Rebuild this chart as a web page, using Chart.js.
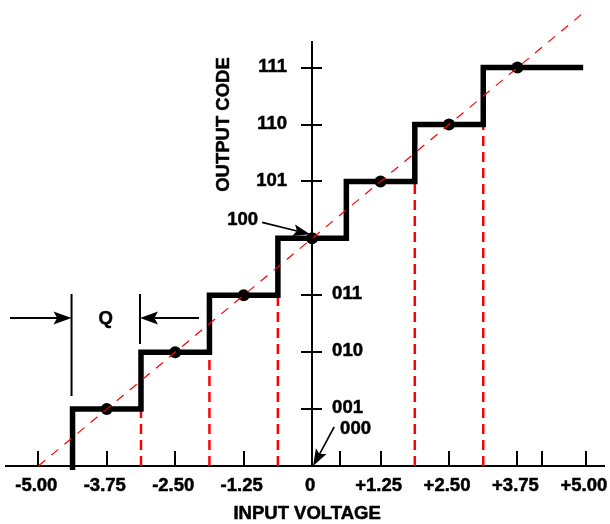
<!DOCTYPE html>
<html>
<head>
<meta charset="utf-8">
<script src="https://cdn.jsdelivr.net/npm/chart.js@4.4.1/dist/chart.umd.min.js"></script>
<style>
  html, body { margin: 0; padding: 0; background: #fff; }
  #wrap { width: 610px; height: 524px; }
</style>
</head>
<body>
<div id="wrap"><canvas id="adcChart"></canvas></div>
<script>
/*
 * 3-bit ADC transfer function
 */
// staircase: code changes at each edge, last value is where the line stops
const stepEdges = [-4.375, -3.125, -1.875, -0.625, 0.625, 1.875, 3.125, 4.95];
const stepCodes = [1, 2, 3, 4, 5, 6, 7];
// dots at the middle of each step
const dotVolts = [-3.75, -2.5, -1.25, 0, 1.25, 2.5, 3.75];
const dotCodes = [1, 2, 3, 4, 5, 6, 7];
// ideal (red diagonal)
const idealVolts = [-5, 4.95];
const idealCodes = [0, 7.96];
// red dashed drop lines
const dropVolts = [-3.125, -1.875, -0.625, 1.875, 3.125];
const dropCodes = [1, 2, 3, 5, 6];
// axis ticks and labels
const xTickMarks = [-5, -3.75, -2.5, -1.25, 0.5, 1.25, 2.5, 3.75, 4.2, 5];
const xLabelValues = [-5, -3.75, -2.5, -1.25, 0, 1.25, 2.5, 3.75, 5];
const codeTicks = [1, 2, 3, 4, 5, 6, 7];
const codeNames = ['000', '001', '010', '011', '100', '101', '110', '111'];

const FONT = 'bold 18.5px "Liberation Sans", Arial, sans-serif';

// 스텝 라인 포인트
const stairPoints = [{ x: stepEdges[0], y: -0.07 }];
for (let i = 0; i < stepCodes.length; i++) {
	stairPoints.push({ x: stepEdges[i], y: stepCodes[i] });
	stairPoints.push({ x: stepEdges[i + 1], y: stepCodes[i] });
}

const dropPoints = [];
for (let i = 0; i < dropVolts.length; i++) {
	dropPoints.push({ x: dropVolts[i], y: 0 });
	dropPoints.push({ x: dropVolts[i], y: dropCodes[i] });
	dropPoints.push({ x: dropVolts[i], y: null });
}

const fmtVolt = (v) => {
	if (v === 0) return '0';
	return (v > 0 ? '+' : '') + v.toFixed(2);
};

// 굵은 글씨 (살짝 외곽선)
const boldText = (ctx, text, px, py) => {
	ctx.fillText(text, px, py);
	ctx.strokeText(text, px, py);
};

const drawArrow = (ctx, x1, y1, x2, y2, len, half) => {
	const a = Math.atan2(y2 - y1, x2 - x1);
	const c = Math.cos(a), s = Math.sin(a);
	ctx.beginPath();
	ctx.moveTo(x1, y1);
	ctx.lineTo(x2 - c * len * 0.8, y2 - s * len * 0.8);
	ctx.stroke();
	ctx.beginPath();
	ctx.moveTo(x2, y2);
	ctx.lineTo(x2 - c * len + s * half, y2 - s * len - c * half);
	ctx.lineTo(x2 - c * len * 0.8, y2 - s * len * 0.8);
	ctx.lineTo(x2 - c * len - s * half, y2 - s * len + c * half);
	ctx.closePath();
	ctx.fill();
};

// 라벨, 화살표 등
const annotations = {
	id: 'annotations',
	afterDraw(chart) {
		const ctx = chart.ctx;
		const x = chart.scales.x;
		const y = chart.scales.y;
		const x0 = x.getPixelForValue(0);
		const base = y.getPixelForValue(0);

		ctx.save();
		ctx.fillStyle = '#000';
		ctx.strokeStyle = '#000';
		ctx.font = FONT;
		ctx.lineWidth = 0.5;

		// x tick labels
		ctx.textAlign = 'center';
		ctx.textBaseline = 'middle';
		xLabelValues.forEach((v) => {
			boldText(ctx, fmtVolt(v), x.getPixelForValue(v) - 2, base + 20);
		});

		// code labels
		codeTicks.forEach((c) => {
			const py = y.getPixelForValue(c);
			if (c >= 5) {
				ctx.textAlign = 'right';
				boldText(ctx, codeNames[c], x0 - 25, py - 1);
			} else if (c <= 3) {
				ctx.textAlign = 'left';
				boldText(ctx, codeNames[c], x0 + 20, py - 1);
			}
		});

		const y4 = y.getPixelForValue(4);
		ctx.textAlign = 'right';
		boldText(ctx, codeNames[4], x0 - 54, y4 - 18);
		ctx.textAlign = 'left';
		boldText(ctx, codeNames[0], x0 + 28, base - 37);

		// Q = one step width
		const qL = x.getPixelForValue(stepEdges[0]) - 1;
		const qR = x.getPixelForValue(stepEdges[1]) - 1;
		const qy = y.getPixelForValue(2.6);
		ctx.textAlign = 'center';
		boldText(ctx, 'Q', (qL + qR) / 2, qy + 1);

		// axis titles
		boldText(ctx, 'INPUT VOLTAGE', x0 - 5, base + 48);
		ctx.save();
		ctx.translate(x0 - 88, y.getPixelForValue(6));
		ctx.rotate(-Math.PI / 2);
		boldText(ctx, 'OUTPUT CODE', 0, 0);
		ctx.restore();

		// arrows
		ctx.lineWidth = 1.6;
		drawArrow(ctx, x0 - 50, y4 - 16, x0 - 2, y4 - 4, 17, 6);
		drawArrow(ctx, x0 + 22, base - 39, x0 + 1, base, 17, 6);

		ctx.lineWidth = 2;
		ctx.beginPath();
		ctx.moveTo(qL, qy - 24);
		ctx.lineTo(qL, qy + 78);
		ctx.moveTo(qR, qy - 24);
		ctx.lineTo(qR, qy + 26);
		ctx.stroke();
		drawArrow(ctx, 10, qy, qL, qy, 18, 6.5);
		drawArrow(ctx, qR + 59, qy, qR, qy, 18, 6.5);
		ctx.restore();
	}
};

new Chart(document.getElementById('adcChart'), {
	type: 'line',
	data: {
		datasets: [{
			label: 'ideal',
			data: idealVolts.map((v, i) => ({ x: v, y: idealCodes[i] })),
			borderColor: '#ff0000',
			borderWidth: 1.2,
			borderDash: [9, 8],
			pointRadius: 0,
			clip: false,
			order: 0
		}, {
			label: 'mid points',
			data: dotVolts.map((v, i) => ({ x: v, y: dotCodes[i] })),
			showLine: false,
			pointRadius: 6,
			pointBackgroundColor: '#000',
			pointBorderWidth: 0,
			clip: false,
			order: 1
		}, {
			label: 'output code',
			data: stairPoints,
			borderColor: '#000',
			borderWidth: 5.5,
			borderJoinStyle: 'miter',
			borderCapStyle: 'butt',
			pointRadius: 0,
			tension: 0,
			clip: false,
			order: 2
		}, {
			label: 'drops',
			data: dropPoints,
			borderColor: '#ff0000',
			borderWidth: 2.5,
			borderDash: [10, 6],
			pointRadius: 0,
			spanGaps: false,
			clip: false,
			order: 3
		}]
	},
	options: {
		responsive: true,
		maintainAspectRatio: false,
		animation: false,
		layout: {
			padding: { top: 42, bottom: 58, left: 5, right: 0 }
		},
		plugins: {
			legend: { display: false },
			tooltip: { enabled: false }
		},
		scales: {
			x: {
				type: 'linear',
				min: -5.59,
				max: 5.33,
				position: { y: 0 },
				border: { color: '#000', width: 2 },
				grid: {
					drawOnChartArea: false,
					color: '#000',
					lineWidth: 2,
					tickLength: -16
				},
				ticks: { display: false },
				afterBuildTicks: (scale) => {
					scale.ticks = xTickMarks.map((v) => ({ value: v }));
				}
			},
			y: {
				type: 'linear',
				min: 0,
				max: 7.45,
				position: { x: 0 },
				border: { color: '#000', width: 2 },
				grid: {
					drawOnChartArea: false,
					color: '#000',
					lineWidth: 2,
					tickLength: 10
				},
				ticks: { display: false },
				afterBuildTicks: (scale) => {
					scale.ticks = codeTicks.map((v) => ({ value: v }));
				}
			},
			// 오른쪽 눈금 (축 오른쪽 절반)
			yR: {
				type: 'linear',
				axis: 'y',
				min: 0,
				max: 7.45,
				position: { x: 0 },
				border: { display: false },
				grid: {
					drawOnChartArea: false,
					color: '#000',
					lineWidth: 2,
					tickLength: -10
				},
				ticks: { display: false },
				afterBuildTicks: (scale) => {
					scale.ticks = codeTicks.map((v) => ({ value: v }));
				}
			}
		}
	},
	plugins: [annotations]
});
</script>
</body>
</html>
